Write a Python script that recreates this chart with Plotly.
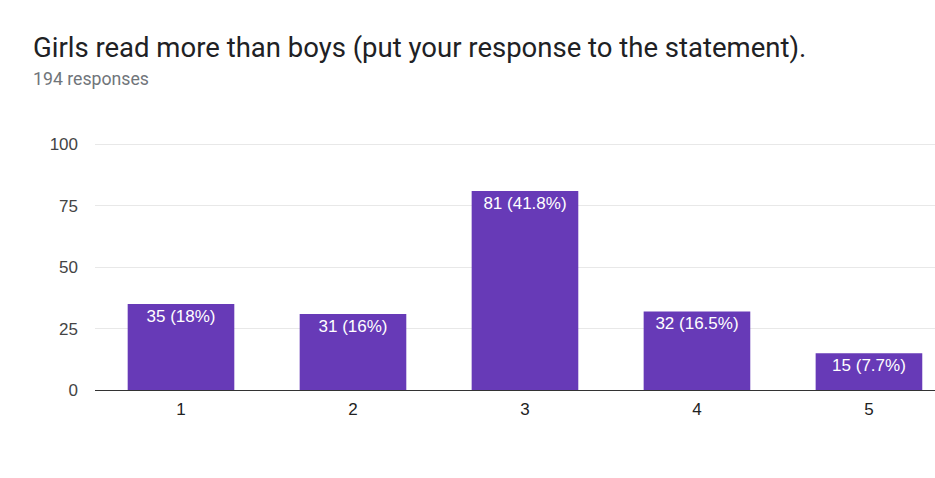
import plotly.graph_objects as go

categories = ["1", "2", "3", "4", "5"]
counts = [35, 31, 81, 32, 15]
labels = ["35 (18%)", "31 (16%)", "81 (41.8%)", "32 (16.5%)", "15 (7.7%)"]
y_ticks = [0, 25, 50, 75, 100]

x_pos = list(range(len(categories)))

fig = go.Figure()
fig.add_trace(go.Bar(
    x=x_pos, y=counts, text=labels,
    textposition="inside", insidetextanchor="end",
    textfont=dict(color="white", size=17, family="Liberation Sans, Arial"),
    marker=dict(color="#673ab7", line=dict(width=0)),
    width=0.62, hoverinfo="skip", cliponaxis=False,
))

fig.update_layout(
    width=935, height=478,
    margin=dict(l=95, r=0, t=142, b=88),
    paper_bgcolor="white", plot_bgcolor="white",
    showlegend=False,
    uniformtext=dict(minsize=8, mode=False),
    font=dict(family="Liberation Sans, Arial", size=17, color="#444"),
    xaxis=dict(
        range=[-0.5, 4.384], tickvals=x_pos, ticktext=categories,
        showgrid=False, showline=True, linecolor="#333", linewidth=1,
        ticks="", ticklabelstandoff=4,
        tickfont=dict(size=17, color="#222"), fixedrange=True,
    ),
    yaxis=dict(
        range=[0, 101], tickvals=y_ticks, showgrid=True, gridcolor="#e8e8e8",
        gridwidth=1, zeroline=False, showline=False, ticks="",
        ticklabelstandoff=16,
        tickfont=dict(size=17, color="#444"), fixedrange=True,
    ),
    annotations=[
        dict(text="Girls read more than boys (put your response to the statement).",
             x=31, y=478 - 48, xref="paper", yref="paper", showarrow=False,
             font=dict(family="Roboto", size=27.5, color="#202124"),
             xanchor="left", yanchor="middle"),
        dict(text="194 responses", x=31, y=478 - 79, xref="paper", yref="paper",
             showarrow=False, font=dict(family="Roboto", size=17.7, color="#70757a"),
             xanchor="left", yanchor="middle"),
    ],
)
# convert pixel positions to paper coordinates
plot_w = 935 - 95
plot_h = 478 - 142 - 88
for a in fig.layout.annotations:
    a.x = (a.x - 95) / plot_w
    a.y = (a.y - 88) / plot_h

fig.write_html("out.html")
